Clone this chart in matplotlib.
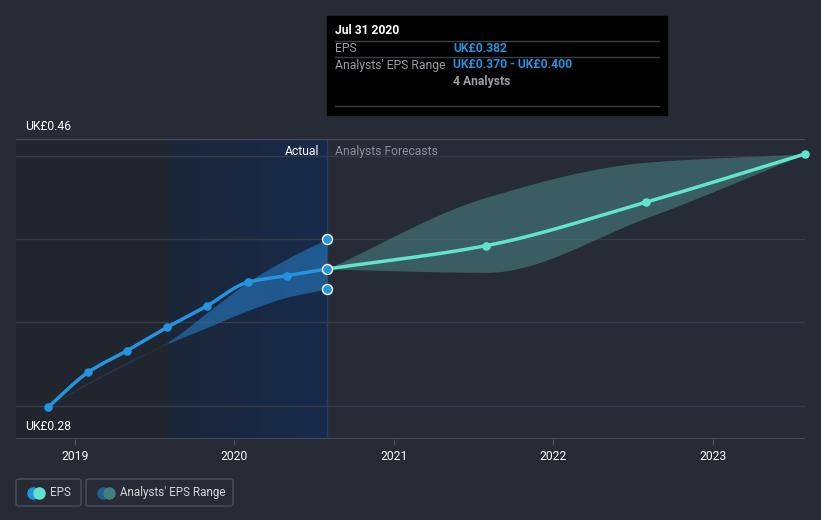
import numpy as np
import pandas as pd
import matplotlib
matplotlib.use("Agg")
import matplotlib.pyplot as plt
from matplotlib.patches import Rectangle, FancyBboxPatch

plt.rcParams["font.family"] = ["Roboto", "DejaVu Sans"]

# ── Data ──────────────────────────────────────────────────────────────────────
past_dates = ["2018-10-31", "2019-01-31", "2019-04-30", "2019-07-31",
              "2019-10-31", "2020-01-31", "2020-04-30", "2020-07-31"]
past_eps = [0.299, 0.320, 0.333, 0.347, 0.360, 0.374, 0.378, 0.382]
past_low = [0.299, 0.313, 0.325, 0.337, 0.347, 0.357, 0.365, 0.370]
past_high = [0.299, 0.314, 0.326, 0.338, 0.356, 0.374, 0.388, 0.400]

fc_dates = ["2020-07-31", "2021-07-31", "2022-07-31", "2023-07-31"]
fc_eps = [0.382, 0.396, 0.422, 0.451]
fc_low = [0.382, 0.380, 0.4125, 0.451]
fc_high = [0.382, 0.425, 0.446, 0.451]

years = [2019, 2020, 2021, 2022, 2023]
ymin, ymax = 0.28, 0.46
grid_vals = [0.30, 0.35, 0.40, 0.45]
split_date = "2019-07-31"   # start of highlighted past-year region
now_date = "2020-07-31"

BG = "#262b36"
BLUE = "#2394df"
TEAL = "#62e3cc"


def dyear(s):
    t = pd.Timestamp(s)
    start = pd.Timestamp(year=t.year, month=1, day=1)
    end = pd.Timestamp(year=t.year + 1, month=1, day=1)
    return t.year + (t - start) / (end - start)


def pchip(x, y, n=200):
    # monotone cubic, only used to draw a smooth curve through the points
    x = np.asarray(x, float); y = np.asarray(y, float)
    h = np.diff(x); d = np.diff(y) / h
    m = np.zeros_like(y)
    for i in range(1, len(x) - 1):
        if d[i - 1] * d[i] > 0:
            w1 = 2 * h[i] + h[i - 1]; w2 = h[i] + 2 * h[i - 1]
            m[i] = (w1 + w2) / (w1 / d[i - 1] + w2 / d[i])
    m[0] = d[0]; m[-1] = d[-1]
    xs = np.linspace(x[0], x[-1], n)
    k = np.clip(np.searchsorted(x, xs) - 1, 0, len(x) - 2)
    t = (xs - x[k]) / h[k]
    h00 = 2 * t**3 - 3 * t**2 + 1; h10 = t**3 - 2 * t**2 + t
    h01 = -2 * t**3 + 3 * t**2; h11 = t**3 - t**2
    ys = h00 * y[k] + h10 * h[k] * m[k] + h01 * y[k + 1] + h11 * h[k] * m[k + 1]
    return xs, ys


px = [dyear(d) for d in past_dates]
fx = [dyear(d) for d in fc_dates]
x_split = dyear(split_date)
x_now = dyear(now_date)

# ── Figure ────────────────────────────────────────────────────────────────────
W, H = 821, 520
fig = plt.figure(figsize=(W / 100, H / 100), dpi=100, facecolor=BG)
ax = fig.add_axes([16 / W, (H - 439) / H, (805 - 16) / W, 300 / H])
ax.set_facecolor(BG)

x0 = 2019 + (16 - 75) / 159.5
x1 = fx[-1]
ax.set_xlim(x0, x1)
ax.set_ylim(ymin, ymax)

# background regions
ax.axvspan(x0, x_split, color="#21252e", zorder=0, lw=0)
grad = np.linspace(0, 1, 256).reshape(1, -1)
c0 = np.array(matplotlib.colors.to_rgb("#1c2638"))
c1 = np.array(matplotlib.colors.to_rgb("#172b4b"))
img = c0[None, None, :] * (1 - grad[..., None]) + c1[None, None, :] * grad[..., None]
ax.imshow(img, extent=[x_split, x_now, ymin, ymax], aspect="auto", zorder=0.5)
ax.axvline(x_now, color="#24406a", lw=1, zorder=1)

# grid
for g in grid_vals:
    ax.axhline(g, color="#353b47", lw=1, zorder=1)
ax.axhline(ymax, color="#474d58", lw=1, zorder=1)
ax.axhline(ymin, color="#4d535e", lw=1.2, zorder=1)

# past range band
bx, blo = pchip(px, past_low)
_, bhi = pchip(px, past_high)
ax.fill_between(bx, blo, bhi, where=bx <= x_split + 0.01, color="#245a8e", alpha=0.35, lw=0, zorder=2)
ax.fill_between(bx, blo, bhi, where=bx >= x_split, color="#2469a8", alpha=0.75, lw=0, zorder=2)

# forecast range band
fbx, flo = pchip(fx, fc_low)
_, fhi = pchip(fx, fc_high)
ax.fill_between(fbx, flo, fhi, color="#4c8789", alpha=0.55, lw=0, zorder=2)

# EPS lines
lx, ly = pchip(px, past_eps)
ax.plot(lx, ly, color=BLUE, lw=2.5, zorder=4, solid_capstyle="round")
ax.scatter(px[:-1], past_eps[:-1], s=38, color=BLUE, zorder=5, lw=0)
flx, fly = pchip(fx, fc_eps)
ax.plot(flx, fly, color=TEAL, lw=2.5, zorder=4, solid_capstyle="round")
ax.scatter(fx[1:], fc_eps[1:], s=38, color=TEAL, zorder=5, lw=0, clip_on=False)

# current point markers (EPS, range low/high)
ax.scatter([x_now] * 3, [past_eps[-1], past_low[-1], past_high[-1]], s=52,
           color=BLUE, edgecolors="white", linewidths=1, zorder=6)

# labels inside plot
ax.text(x_now - 0.05, 0.4525, "Actual", color="white", fontsize=8.7,
        ha="right", va="center", zorder=7)
ax.text(x_now + 0.05, 0.4525, "Analysts Forecasts", color="#8a8f99", fontsize=8.7,
        ha="left", va="center", zorder=7)

for s in ax.spines.values():
    s.set_visible(False)
ax.set_yticks([])
ax.set_xticks(years)
ax.set_xticklabels([str(y) for y in years], color="white", fontsize=8.7)
ax.tick_params(axis="x", length=4, color="#4d535e", pad=4)

# y labels
fig.text(25 / W, 1 - 127 / H, "UK£0.46", color="white", fontsize=8.7, va="center")
fig.text(25 / W, 1 - 427 / H, "UK£0.28", color="white", fontsize=8.7, va="center")

# ── Tooltip ───────────────────────────────────────────────────────────────────
def fx_(p): return p / W
def fy_(p): return 1 - p / H

fig.patches.append(Rectangle((fx_(327), fy_(115)), 340 / W, 99 / H,
                             transform=fig.transFigure, color="black", zorder=10))
fig.text(fx_(335), fy_(30), "Jul 31 2020", color="white", fontsize=8.7,
         fontweight="bold", va="center", zorder=11)
for yy in [41, 57, 106]:
    fig.add_artist(plt.Line2D([fx_(335), fx_(659)], [fy_(yy), fy_(yy)],
                              color="#3c3f44", lw=1, zorder=11))
fig.text(fx_(335), fy_(48.5), "EPS", color="#9a9ea5", fontsize=8.7, va="center", zorder=11)
fig.text(fx_(453), fy_(48.5), "UK£0.382", color=BLUE, fontsize=8.7,
         fontweight="bold", va="center", zorder=11)
fig.text(fx_(335), fy_(65), "Analysts' EPS Range", color="#9a9ea5", fontsize=8.7,
         va="center", zorder=11)
fig.text(fx_(453), fy_(65), "UK£0.370 - UK£0.400", color=BLUE, fontsize=8.7,
         fontweight="bold", va="center", zorder=11)
fig.text(fx_(453), fy_(81), "4 Analysts", color="#9a9ea5", fontsize=8.7,
         fontweight="bold", va="center", zorder=11)

# ── Legend buttons ────────────────────────────────────────────────────────────
def button(xl, xr, label, col_a, col_b, tx):
    fig.patches.append(FancyBboxPatch((fx_(xl), fy_(506)), (xr - xl) / W, 27 / H,
                                      boxstyle="round,pad=0,rounding_size=0.004",
                                      transform=fig.transFigure, facecolor="none",
                                      edgecolor="#4a505b", lw=1))
    fig.add_artist(plt.Line2D([fx_(tx - 17)], [fy_(492.5)], marker="o", ms=8,
                              color=col_a, lw=0))
    fig.add_artist(plt.Line2D([fx_(tx - 11)], [fy_(492.5)], marker="o", ms=8,
                              color=col_b, lw=0))
    fig.text(fx_(tx), fy_(492.5), label, color="#d4d7db", fontsize=8.4, va="center")

button(16, 81, "EPS", BLUE, TEAL, 50)
button(86, 233, "Analysts' EPS Range", "#225f91", "#3f7f80", 120)

fig.savefig("out.png", dpi=100, facecolor=BG)
